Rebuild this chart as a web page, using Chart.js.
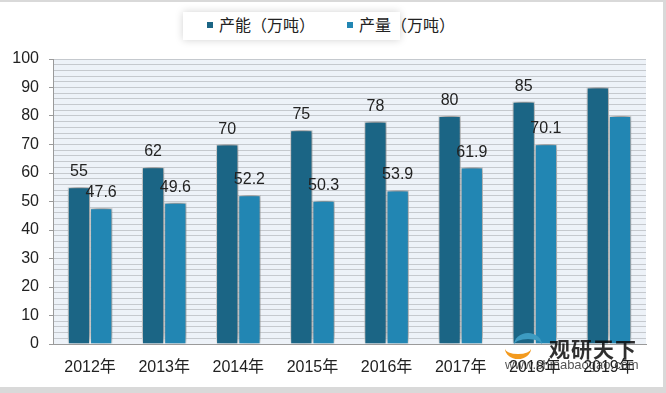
<!DOCTYPE html>
<html>
<head>
<meta charset="utf-8">
<script src="https://cdn.jsdelivr.net/npm/chart.js@4.4.1/dist/chart.umd.min.js"></script>
<style>
  body{margin:0;}
  #wrap{position:relative;width:666px;height:393px;background:#d9d9d9;overflow:hidden;font-family:"Liberation Sans","Noto Sans CJK SC",sans-serif;}
  #inner{position:absolute;left:0;top:2px;width:663px;height:385px;background:#fff;}
  #chart{position:absolute;left:0;top:0;}
  #legend{position:absolute;left:183px;top:12px;width:217px;height:28px;background:#fff;box-shadow:0 0 8px rgba(0,0,0,0.18);}
  .item{position:absolute;top:0;height:28px;line-height:28px;font-size:16px;color:#222;white-space:nowrap;}
  .mark{display:inline-block;width:6px;height:6px;margin-right:6px;vertical-align:middle;position:relative;top:-2px;}
  #wm1{position:absolute;left:549px;top:333px;font-size:21px;font-weight:bold;color:rgba(10,10,10,0.85);font-family:"Noto Sans CJK SC",sans-serif;letter-spacing:1px;}
  #wm2{position:absolute;left:505px;top:357px;font-size:13px;color:rgba(40,40,40,0.8);}
  #logo1{position:absolute;left:505px;top:338px;width:26px;height:16px;border-radius:50%;border-bottom:5px solid #f39a1e;}
  #logo2{position:absolute;left:514px;top:333px;width:28px;height:18px;border-radius:50%;border-top:6px solid #3d9bc1;}
</style>
</head>
<body>
<div id="wrap">
  <div id="inner"></div>
  <div id="legend"></div>
  <canvas id="chart" width="666" height="393"></canvas>
  <div id="logo1"></div><div id="logo2"></div>
  <div id="wm1">观研天下</div>
  <div id="wm2">www.chinabaogao.com</div>
</div>
<script>
const years = ["2012年","2013年","2014年","2015年","2016年","2017年","2018年","2019年"];
const capacity = [55,62,70,75,78,80,85,90];
const output = [47.6,49.6,52.2,50.3,53.9,61.9,70.1,80];
const capacityLabels = ["55","62","70","75","78","80","85",""];
const outputLabels = ["47.6","49.6","52.2","50.3","53.9","61.9","70.1",""];
const seriesNames = ["产能（万吨）","产量（万吨）"];
const colors = ["#1b6585","#2286b3"];

const FONT = '"Liberation Sans","Noto Sans CJK SC",sans-serif';

// legend
const legend = document.getElementById("legend");
[24, 164].forEach((x,i)=>{
  const d = document.createElement("div");
  d.className = "item";
  d.style.left = x + "px";
  d.innerHTML = `<span class="mark" style="background:${colors[i]}"></span>${seriesNames[i]}`;
  legend.appendChild(d);
});

const plotBg = {
  id:"plotBg",
  beforeDraw(chart){
    const {ctx, chartArea:a} = chart;
    ctx.save();
    ctx.fillStyle = "#edf2f8";
    ctx.fillRect(a.left, a.top, a.right-a.left, a.bottom-a.top);
    ctx.restore();
  }
};

const barShadow = {
  id:"barShadow",
  beforeDatasetsDraw(chart){
    const ctx = chart.ctx;
    ctx.save();
    ctx.shadowColor = "rgba(0,0,0,0.6)";
    ctx.shadowBlur = 9;
    ctx.shadowOffsetX = 1;
    ctx.shadowOffsetY = -2;
  },
  afterDatasetsDraw(chart){
    chart.ctx.restore();
  }
};

const valueLabels = {
  id:"valueLabels",
  afterDatasetsDraw(chart){
    const ctx = chart.ctx;
    const lists = [capacityLabels, outputLabels];
    ctx.save();
    ctx.font = "16px " + FONT;
    ctx.fillStyle = "#222";
    ctx.textAlign = "center";
    ctx.textBaseline = "alphabetic";
    chart.data.datasets.forEach((ds, di)=>{
      chart.getDatasetMeta(di).data.forEach((bar, i)=>{
        const t = lists[di][i];
        if(!t) return;
        ctx.fillText(t, bar.x, bar.y - 11);
      });
    });
    ctx.restore();
  }
};

new Chart(document.getElementById("chart"), {
  type:"bar",
  data:{
    labels: years,
    datasets:[
      {label:seriesNames[0], data:capacity, backgroundColor:colors[0], borderColor:"#ffffff", borderWidth:1},
      {label:seriesNames[1], data:output, backgroundColor:colors[1], borderColor:"#ffffff", borderWidth:1}
    ]
  },
  options:{
    responsive:false,
    animation:false,
    layout:{padding:{top:59, right:20, left:0, bottom:0}},
    plugins:{legend:{display:false}, tooltip:{enabled:false}},
    datasets:{bar:{categoryPercentage:0.6, barPercentage:1.0}},
    scales:{
      x:{
        grid:{display:false, drawTicks:false},
        border:{display:true, color:"#9a9a9a", width:1},
        ticks:{color:"#222", font:{size:16, family:FONT}, padding:14, maxRotation:0, autoSkip:false},
        afterFit(s){ s.height = 49; }
      },
      y:{
        min:0, max:100,
        grid:{
          color:"#c5c9ce",
          drawTicks:true,
          tickLength:4,
          tickColor:(c)=> (c.tick && c.tick.value % 10 === 0) ? "#9a9a9a" : "rgba(0,0,0,0)"
        },
        border:{display:true, color:"#9a9a9a", width:1},
        ticks:{
          stepSize:2, autoSkip:false, color:"#222", padding:10,
          font:{size:16, family:FONT},
          callback:(v)=> v % 10 === 0 ? v : ""
        },
        afterFit(s){ s.width = 53; }
      }
    }
  },
  plugins:[plotBg, barShadow, valueLabels]
});
</script>
</body>
</html>
